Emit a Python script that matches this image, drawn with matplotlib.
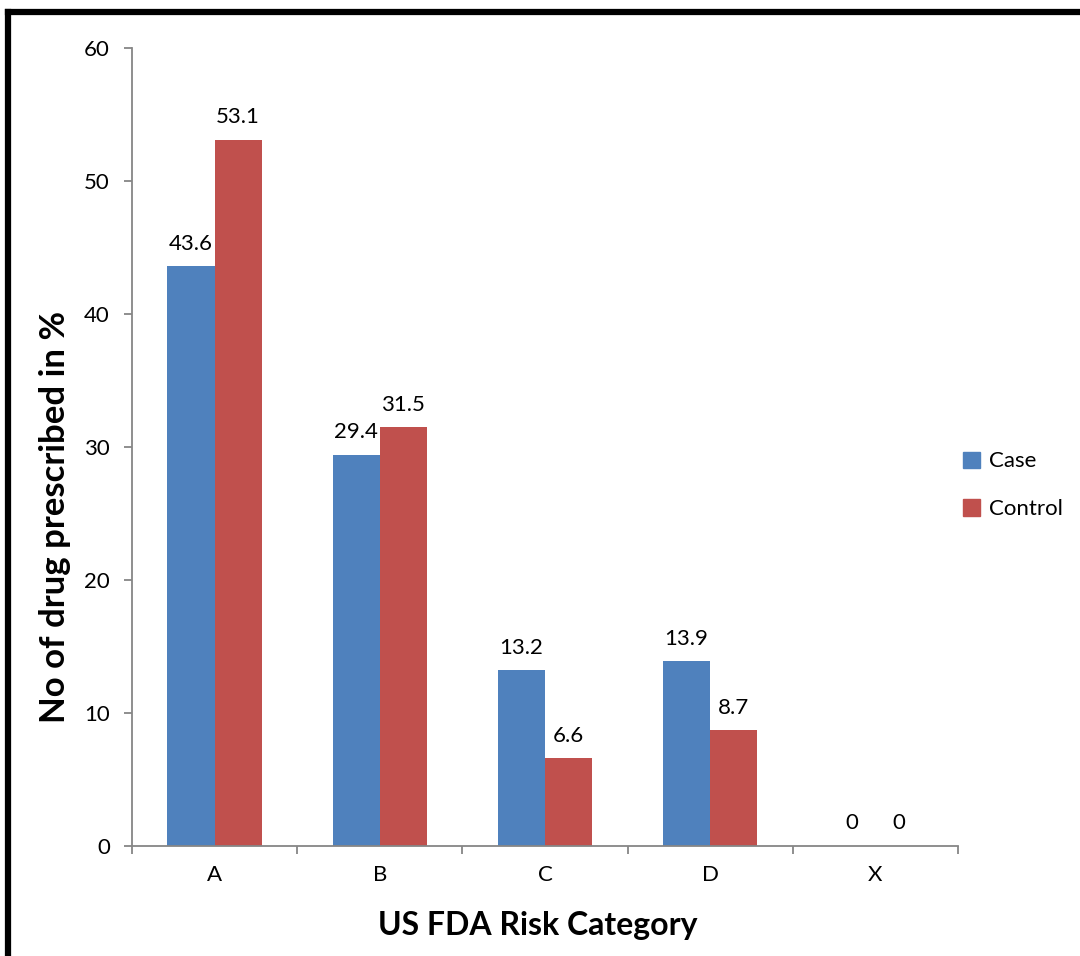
import numpy as np
import matplotlib.pyplot as plt
from matplotlib.lines import Line2D
from matplotlib.patches import Patch

plt.rcParams['font.family'] = ['Lato', 'DejaVu Sans']

# risk categories and share of drugs prescribed (%)
categories = ['A', 'B', 'C', 'D', 'X']
case = [43.6, 29.4, 13.2, 13.9, 0]
control = [53.1, 31.5, 6.6, 8.7, 0]
yticks = [0, 10, 20, 30, 40, 50, 60]

blue = '#4F81BD'
red = '#C0504D'
axis_grey = '#868686'

fig = plt.figure(figsize=(10.8, 9.56), dpi=100)
ax = fig.add_axes([0.1222, 0.1151, 0.7648, 0.8347])

x = np.arange(len(categories))
w = 0.285
b1 = ax.bar(x - w / 2, case, w, color=blue, label='Case')
b2 = ax.bar(x + w / 2, control, w, color=red, label='Control')

ax.bar_label(b1, labels=[f'{v:g}' for v in case], padding=9, fontsize=16)
ax.bar_label(b2, labels=[f'{v:g}' for v in control], padding=9, fontsize=16)

ax.set_xlim(-0.5, len(categories) - 0.5)
ax.set_ylim(0, 60)
ax.set_yticks(yticks)
ax.tick_params(axis='y', direction='out', length=6, width=1.3, color=axis_grey,
               labelsize=16, pad=10)
# category ticks sit between the groups
ax.set_xticks(np.arange(-0.5, len(categories), 1))
ax.set_xticklabels([])
ax.set_xticks(x, minor=True)
ax.set_xticklabels(categories, minor=True, fontsize=16)
ax.tick_params(axis='x', which='major', direction='out', length=6, width=1.3,
               color=axis_grey)
ax.tick_params(axis='x', which='minor', length=0, pad=14)

for s in ['top', 'right']:
    ax.spines[s].set_visible(False)
for s in ['left', 'bottom']:
    ax.spines[s].set_color(axis_grey)
    ax.spines[s].set_linewidth(1.3)

ax.set_ylabel('No of drug prescribed in %', fontsize=25, fontweight='bold', va='center')
ax.yaxis.set_label_coords(-0.093, 0.412)
ax.set_xlabel('US FDA Risk Category', fontsize=23, fontweight='bold', va='center')
ax.xaxis.set_label_coords(0.4915, -0.100)

handles = [Patch(color=blue), Patch(color=red)]
ax.legend(handles, ['Case', 'Control'], loc='center left', bbox_to_anchor=(0.99, 0.452),
          frameon=False, fontsize=16, handlelength=0.75, handleheight=0.75,
          handletextpad=0.4, labelspacing=1.25, borderaxespad=0.2)

# black frame around the chart
fig.add_artist(Line2D([8 / 1080, 8 / 1080], [0, 1 - 12 / 956], color='black',
                      linewidth=4.5, transform=fig.transFigure, solid_capstyle='projecting'))
fig.add_artist(Line2D([8 / 1080, 1], [1 - 12 / 956, 1 - 12 / 956], color='black',
                      linewidth=4.5, transform=fig.transFigure, solid_capstyle='projecting'))

fig.savefig('out.png', dpi=100)
